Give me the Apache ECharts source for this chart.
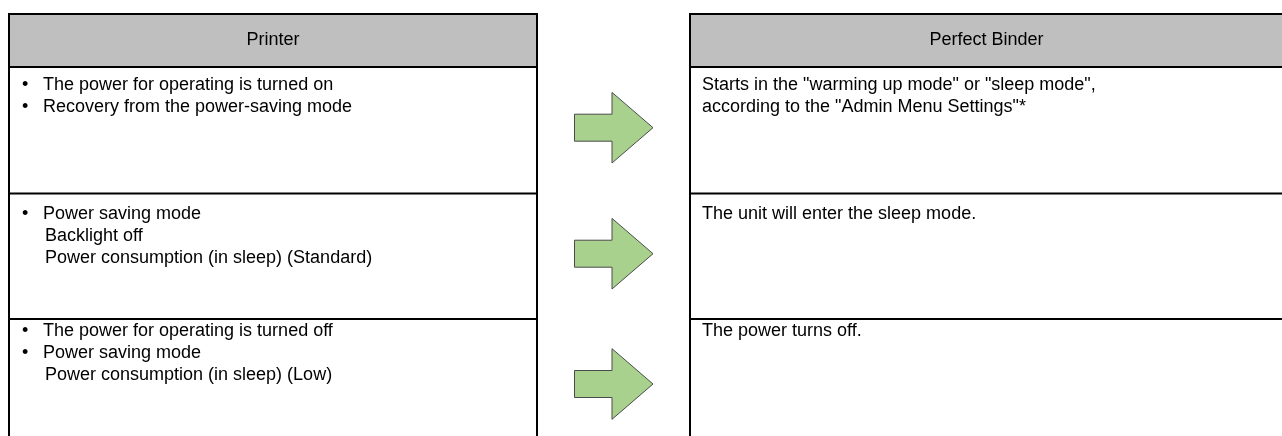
<!DOCTYPE html>
<html>
<head>
<meta charset="utf-8">
<script src="https://cdn.jsdelivr.net/npm/echarts@6/dist/echarts.min.js"></script>
<style>html,body{margin:0;padding:0;background:#fff}#c{width:1282px;height:436px}</style>
</head>
<body>
<div id="c"></div>
<script>
// ---- content ----
var headers = ['Printer', 'Perfect Binder'];
// each line: [bullet?, text]
var printerRows = [
  [[true, 'The power for operating is turned on'], [true, 'Recovery from the power-saving mode']],
  [[true, 'Power saving mode'], [false, 'Backlight off'], [false, 'Power consumption (in sleep) (Standard)']],
  [[true, 'The power for operating is turned off'], [true, 'Power saving mode'], [false, 'Power consumption (in sleep) (Low)']]
];
var binderRows = [
  ['Starts in the "warming up mode" or "sleep mode",', 'according to the "Admin Menu Settings"*'],
  ['The unit will enter the sleep mode.'],
  ['The power turns off.']
];

// ---- layout ----
var FONT = '18px "Liberation Sans", Arial, sans-serif';
var L = {x1: 9, x2: 537}, R = {x1: 690, x2: 1283};
var topY = 14, headBottom = 67, rowLines = [193.5, 319], bottomY = 437;
var firstLineY = [85, 213.7, 330.7];
var lineH = 22;
var arrowCY = [127.7, 253.7, 384];

var g = [];
function line(x1, y1, x2, y2, w) {
  g.push({type: 'line', shape: {x1: x1, y1: y1, x2: x2, y2: y2}, style: {stroke: '#000', lineWidth: w || 2}, z: 10});
}
function text(t, x, y, align) {
  g.push({type: 'text', x: x, y: y, style: {text: t, font: FONT, fill: '#000', align: align || 'left', verticalAlign: 'middle'}, z: 20});
}
[L, R].forEach(function (T, i) {
  g.push({type: 'rect', shape: {x: T.x1, y: topY, width: T.x2 - T.x1, height: headBottom - topY}, style: {fill: '#bfbfbf'}, z: 1});
  line(T.x1 - 1, topY, T.x2 + 1, topY);
  line(T.x1, topY - 1, T.x1, bottomY);
  if (i === 0) line(T.x2, topY - 1, T.x2, bottomY);
  line(T.x1, headBottom, T.x2, headBottom);
  rowLines.forEach(function (y) { line(T.x1, y, T.x2, y); });
  text(headers[i], (T.x1 + T.x2) / 2, 40.5, 'center');
});
printerRows.forEach(function (row, r) {
  row.forEach(function (ln, k) {
    var y = firstLineY[r] + k * lineH;
    if (ln[0]) text('\u2022', 22, y);
    text(ln[1], ln[0] ? 43 : 45, y);
  });
});
binderRows.forEach(function (row, r) {
  row.forEach(function (t, k) { text(t, 702, firstLineY[r] + k * lineH); });
});
arrowCY.forEach(function (cy) {
  var sx = 574.5, hx = 612, tx = 653, sh = 13.5, hh = 35.3;
  g.push({type: 'polygon', shape: {points: [
    [sx, cy - sh], [hx, cy - sh], [hx, cy - hh], [tx, cy], [hx, cy + hh], [hx, cy + sh], [sx, cy + sh]
  ]}, style: {fill: '#a9d18e', stroke: '#4a4a4a', lineWidth: 1}, z: 5});
});

var chart = echarts.init(document.getElementById('c'), null, {renderer: 'canvas'});
chart.setOption({animation: false, graphic: {elements: g}});
</script>
</body>
</html>
